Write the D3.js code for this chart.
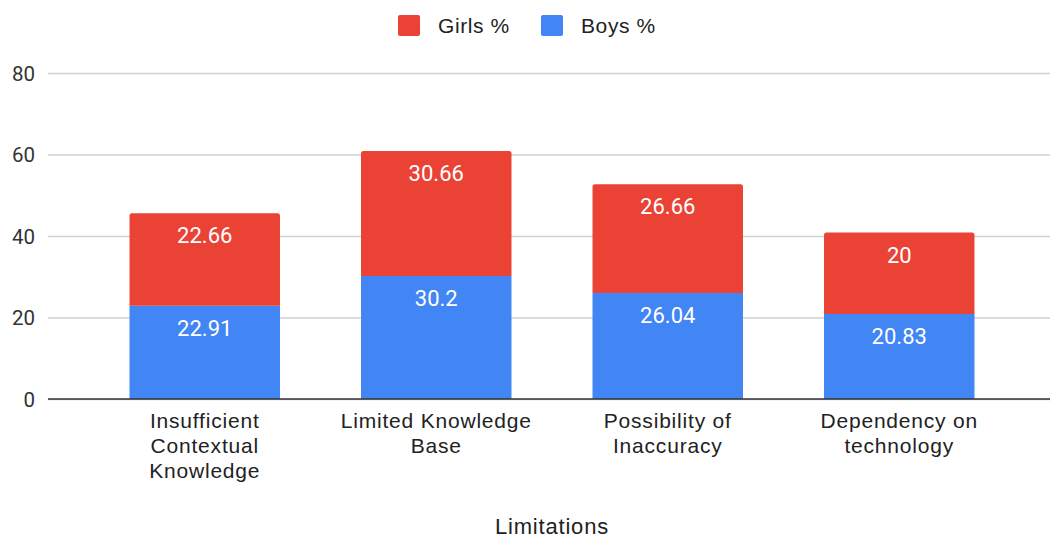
<!DOCTYPE html>
<html>
<head>
<meta charset="utf-8">
<script src="https://cdn.jsdelivr.net/npm/d3@7"></script>
<style>
  html, body { margin: 0; padding: 0; background: #fff; }
  svg { display: block; }
</style>
</head>
<body>
<svg id="chart" width="1050" height="539"></svg>
<script>
// Survey results: limitations reported, split by girls and boys (percent)
const categories = [
  "Insufficient Contextual Knowledge",
  "Limited Knowledge Base",
  "Possibility of Inaccuracy",
  "Dependency on technology"
];
const categoryLines = [
  ["Insufficient", "Contextual", "Knowledge"],
  ["Limited Knowledge", "Base"],
  ["Possibility of", "Inaccuracy"],
  ["Dependency on", "technology"]
];
const boysValues = [22.91, 30.2, 26.04, 20.83];
const girlsValues = [22.66, 30.66, 26.66, 20];
const yTicks = [0, 20, 40, 60, 80];
const seriesNames = ["Girls %", "Boys %"];
const seriesColors = { "Girls %": "#EA4335", "Boys %": "#4285F4" };
const xTitle = "Limitations";

const svg = d3.select("#chart");

const gridLeft = 48, gridRight = 1050;
const x = d3.scaleBand().domain(categories).range([89, 1015]).paddingInner(0.35).paddingOuter(0.175);
const y = d3.scaleLinear().domain([0, 80]).range([399, 73]);

// Gridlines
const yAxis = d3.axisLeft(y).tickValues(yTicks).tickSize(-(gridRight - gridLeft)).tickPadding(13);
const gy = svg.append("g").attr("transform", `translate(${gridLeft},0)`).call(yAxis);
gy.select(".domain").remove();
gy.selectAll(".tick line").attr("stroke", "#d0d0d0").attr("stroke-width", 1.5);
gy.selectAll(".tick text")
  .attr("font-family", "Roboto, sans-serif")
  .attr("font-size", 20.5)
  .attr("fill", "#333")
  .attr("dy", "0.36em");

// Stacked bars
const rows = categories.map((c, i) => ({ cat: c, boys: boysValues[i], girls: girlsValues[i] }));
const stack = d3.stack().keys(["boys", "girls"])(rows);
const keyName = { boys: "Boys %", girls: "Girls %" };

function topRoundedRect(x0, y0, w, h, r) {
  return `M${x0},${y0 + h}V${y0 + r}Q${x0},${y0} ${x0 + r},${y0}H${x0 + w - r}Q${x0 + w},${y0} ${x0 + w},${y0 + r}V${y0 + h}Z`;
}

stack.forEach(layer => {
  const g = svg.append("g");
  const isTop = layer.key === "girls";
  g.selectAll("path").data(layer).join("path")
    .attr("d", d => {
      const x0 = x(d.data.cat), w = x.bandwidth();
      const yTop = y(d[1]), h = y(d[0]) - y(d[1]);
      return isTop ? topRoundedRect(x0, yTop, w, h, 2.5) : `M${x0},${yTop}h${w}v${h}h${-w}Z`;
    })
    .attr("fill", seriesColors[keyName[layer.key]]);
  g.selectAll("text").data(layer).join("text")
    .attr("x", d => x(d.data.cat) + x.bandwidth() / 2)
    .attr("y", d => y(d[1]) + 30)
    .attr("text-anchor", "middle")
    .attr("font-family", "Roboto, sans-serif")
    .attr("font-size", 22)
    .attr("fill", "#fff")
    .text(d => d.data[layer.key]);
});

// Baseline
svg.append("line")
  .attr("x1", gridLeft).attr("x2", gridRight)
  .attr("y1", y(0)).attr("y2", y(0))
  .attr("stroke", "#333").attr("stroke-width", 1.6);

// Category labels
const labelFont = "'Liberation Sans', Arial, sans-serif";
categories.forEach((c, i) => {
  const t = svg.append("text")
    .attr("x", x(c) + x.bandwidth() / 2)
    .attr("y", 428)
    .attr("text-anchor", "middle")
    .attr("font-family", labelFont)
    .attr("font-size", 21)
    .attr("letter-spacing", 0.8)
    .attr("fill", "#222");
  categoryLines[i].forEach((line, j) => {
    t.append("tspan").attr("x", x(c) + x.bandwidth() / 2).attr("dy", j === 0 ? 0 : 25).text(line);
  });
});

// Axis title
svg.append("text")
  .attr("x", 552).attr("y", 534)
  .attr("text-anchor", "middle")
  .attr("font-family", labelFont)
  .attr("font-size", 22)
  .attr("letter-spacing", 0.8)
  .attr("fill", "#222")
  .text(xTitle);

// Legend
const legendX = [398, 541];
seriesNames.forEach((name, i) => {
  svg.append("rect")
    .attr("x", legendX[i]).attr("y", 15)
    .attr("width", 22).attr("height", 21)
    .attr("rx", 2)
    .attr("fill", seriesColors[name]);
  svg.append("text")
    .attr("x", legendX[i] + 40).attr("y", 33)
    .attr("font-family", labelFont)
    .attr("font-size", 21)
    .attr("letter-spacing", 0.6)
    .attr("fill", "#222")
    .text(name);
});
</script>
</body>
</html>
